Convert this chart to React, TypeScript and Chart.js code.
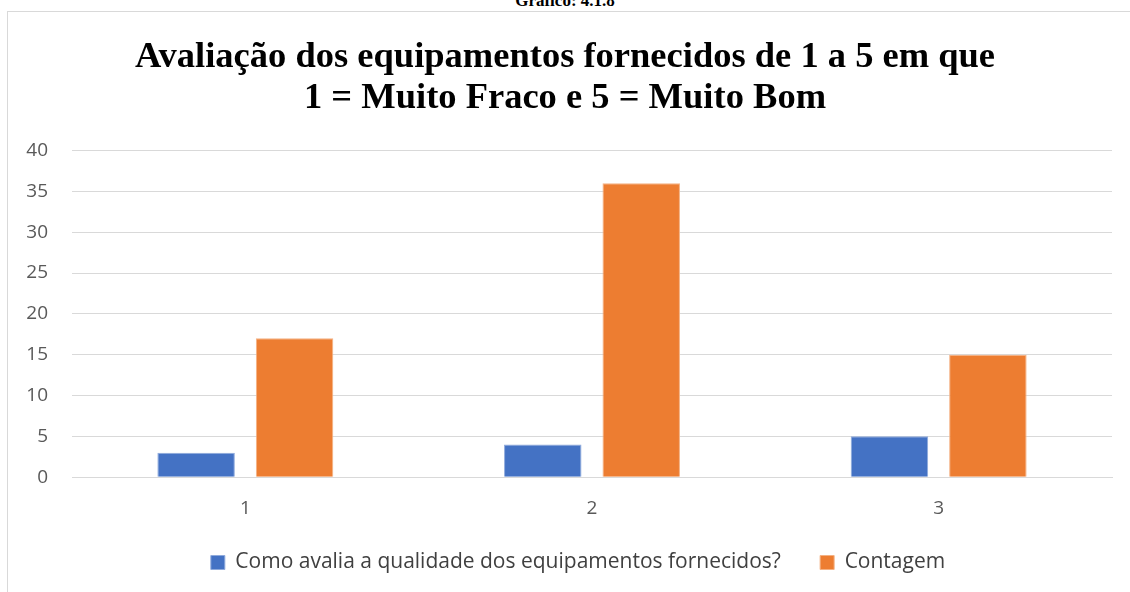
import React, { useEffect, useRef } from "react";
import { Chart, registerables } from "chart.js";

Chart.register(...registerables);

const categories = ["1", "2", "3"];
const seriesNames = ["Como avalia a qualidade dos equipamentos fornecidos?", "Contagem"];
const qualidade = [3, 4, 5];
const contagem = [17, 36, 15];
const yTicks = [0, 5, 10, 15, 20, 25, 30, 35, 40];
const titleLines = ["Avaliação dos equipamentos fornecidos de 1 a 5 em que", "1 = Muito Fraco e 5 = Muito Bom"];
const caption = "Gráfico: 4.1.8";

const FONT = "'Open Sans', 'Noto Sans', sans-serif";

const legendShift = {
  id: "legendShift",
  afterLayout(chart: any) {
    if (chart.legend) {
      chart.legend.left += 13;
      chart.legend.right += 13;
    }
  },
};

export default function App() {
  const ref = useRef<HTMLCanvasElement | null>(null);

  useEffect(() => {
    if (!ref.current) return;
    const chart = new Chart(ref.current, {
      type: "bar",
      data: {
        labels: categories,
        datasets: [
          {
            label: seriesNames[0],
            data: qualidade,
            backgroundColor: "#4472C4",
            borderColor: "#8FAADC",
            borderWidth: 1,
          },
          {
            label: seriesNames[1],
            data: contagem,
            backgroundColor: "#ED7D31",
            borderColor: "#F4B183",
            borderWidth: 1,
          },
        ],
      },
      plugins: [legendShift],
      options: {
        responsive: false,
        animation: false,
        layout: { padding: { left: 18, right: 18, top: 37, bottom: 9 } },
        datasets: {
          bar: { categoryPercentage: 0.568, barPercentage: 0.787 },
        },
        plugins: {
          title: {
            display: true,
            text: titleLines,
            color: "#000000",
            font: { family: "'Liberation Serif', 'Times New Roman', serif", size: 36.5, weight: "bold", lineHeight: 1.13 },
            padding: { top: 0, bottom: 31 },
          },
          legend: {
            position: "bottom",
            labels: {
              color: "#404040",
              font: { family: FONT, size: 21 },
              boxWidth: 14,
              boxHeight: 14,
              padding: 12,
              useBorderRadius: false,
              generateLabels: (c: any) => {
                const items = Chart.defaults.plugins.legend.labels.generateLabels(c);
                return items.map((it: any, i: number) => (i < items.length - 1 ? { ...it, text: it.text + "     " } : it));
              },
            },
          },
          tooltip: { enabled: false },
        },
        scales: {
          x: {
            grid: { display: false, drawTicks: false },
            border: { display: true, color: "#D9D9D9", width: 1 },
            ticks: { color: "#595959", font: { family: FONT, size: 19 }, padding: 20 },
          },
          y: {
            min: 0,
            max: 40,
            afterBuildTicks: (scale: any) => {
              scale.ticks = yTicks.map((v) => ({ value: v }));
            },
            afterFit: (scale: any) => {
              scale.width = 54;
            },
            grid: { color: "#D9D9D9", lineWidth: 1, drawTicks: false },
            border: { display: false },
            ticks: { color: "#595959", font: { family: FONT, size: 19 }, padding: 24 },
          },
        },
      },
    });
    return () => chart.destroy();
  }, []);

  return (
    <div style={{ position: "fixed", left: 0, top: 0, width: 1130, height: 592, overflow: "hidden", background: "#ffffff" }}>
      <div
        style={{
          position: "absolute",
          left: 0,
          top: -8,
          width: 1130,
          textAlign: "center",
          fontFamily: "'Liberation Serif', 'Times New Roman', serif",
          fontWeight: "bold",
          fontSize: 17,
          lineHeight: "18px",
          color: "#000",
        }}
      >
        {caption}
      </div>
      <div
        style={{
          position: "absolute",
          left: 7,
          top: 11,
          width: 2000,
          height: 2000,
          border: "1px solid #D9D9D9",
          boxSizing: "border-box",
        }}
      />
      <canvas ref={ref} width={1130} height={592} style={{ position: "absolute", left: 0, top: 0 }} />
    </div>
  );
}
